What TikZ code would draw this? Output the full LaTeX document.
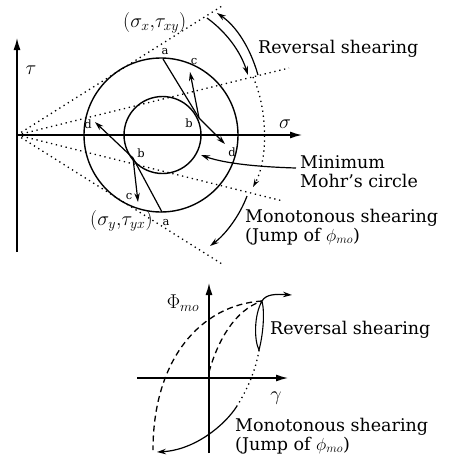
\RequirePackage{fix-cm}
\documentclass[tikz,border=0pt]{standalone}
\usepackage{fontspec}
\setmainfont{DejaVu Serif}
\usetikzlibrary{arrows.meta}
\begin{document}
\begin{tikzpicture}[x=1pt,y=-1pt,
  axis/.style={line width=1.3pt,-{Latex[length=12pt,width=7pt]}},
  circ/.style={line width=1.4pt},
  dotl/.style={line width=1.3pt,dash pattern=on 1.3pt off 3.7pt},
  dashl/.style={line width=1.3pt,dash pattern=on 6pt off 4pt},
  seg/.style={line width=1.2pt},
  arr/.style={line width=1.2pt,-{Stealth[length=9pt,width=5.5pt]}},
  txt/.style={font=\fontsize{17.5}{18.5}\selectfont,inner sep=0pt,anchor=base west,align=left},
  mth/.style={font=\fontsize{20}{22}\selectfont,inner sep=0pt,anchor=base west},
  sym/.style={font=\fontsize{20}{22}\selectfont,inner sep=0pt},
  pl/.style={font=\fontsize{11.5}{13}\selectfont,inner sep=0pt}]
\useasboundingbox (0,0) rectangle (450,456);
% ---------- upper diagram ----------
\coordinate (O) at (17,135);
\coordinate (T0) at (17,252);
\coordinate (T1) at (17,38);
\coordinate (S1) at (302,135);
\draw[axis] (T0) -- (T1);
\draw[axis] (O) -- (S1);
\node[sym] (tau) at (31,70) {$\tau$};
\node[sym] (sig) at (285,124) {$\sigma$};
% circles
\coordinate (C1) at (161,135);
\coordinate (C2) at (162.5,135);
\draw[circ] (C1) circle[radius=77];
\draw[circ] (C2) circle[radius=38.5];
% dotted rays
\coordinate (D1) at (222,6);
\coordinate (D2) at (289,68);
\coordinate (D3) at (283,201);
\coordinate (D4) at (222,264);
\draw[dotl] (O) -- (D1);
\draw[dotl] (O) -- (D2);
\draw[dotl] (O) -- (D3);
\draw[dotl] (O) -- (D4);
% stress paths
\coordinate (au) at (163,59);
\coordinate (bu) at (199,118);
\coordinate (cu) at (190,72);
\coordinate (du) at (225,144);
\coordinate (al) at (162,212);
\coordinate (bl) at (133,158);
\coordinate (cl) at (138,202);
\coordinate (dl) at (95,122);
\draw[seg] (au) -- (bu);
\draw[arr] (bu) -- (cu);
\draw[arr] (bu) -- (du);
\draw[seg] (al) -- (bl);
\draw[arr] (bl) -- (cl);
\draw[arr] (bl) -- (dl);
\node[pl] (la1) at (165,52) {a};
\node[pl] (lc1) at (194,62) {c};
\node[pl] (lb1) at (189,123) {b};
\node[pl] (ld1) at (232,152) {d};
\node[pl] (lb2) at (141,153) {b};
\node[pl] (lc2) at (129,197) {c};
\node[pl] (ld2) at (88,124) {d};
\node[pl] (la2) at (166,223) {a};
\node[mth] (sxy) at (123,27) {$(\sigma_x{,}\tau_{xy})$};
\node[mth] (syx) at (90,225) {$(\sigma_y{,}\tau_{yx})$};
% reversal shearing arrows
\coordinate (R1s) at (258,75);
\coordinate (R1e) at (217,13);
\coordinate (R2s) at (207,18);
\coordinate (R2e) at (248,75);
\draw[arr] (R1s) .. controls (250,47) and (236,26) .. (R1e);
\draw[arr] (R2s) .. controls (225,31) and (240,50) .. (R2e);
\node[txt] (rev1) at (258,53) {Reversal shearing};
% dotted arc and monotonous shearing
\coordinate (M0) at (253,77);
\coordinate (M1) at (253,187);
\coordinate (M2) at (247,196);
\coordinate (M3) at (210,246);
\draw[dotl,-{Stealth[length=8pt,width=5pt]}] (M0) .. controls (268,110) and (268,160) .. (M1);
\draw[arr] (M2) .. controls (240,215) and (226,234) .. (M3);
\node[txt] (mono1) at (245,241) {Monotonous shearing\\(Jump of $\phi_{mo}$)};
% minimum Mohr's circle
\coordinate (N0) at (296,168);
\coordinate (N1) at (201,155);
\draw[arr] (N0) .. controls (262,167) and (226,164) .. (N1);
\node[txt] (min) at (300,187) {Minimum\\Mohr's circle};
% ---------- lower diagram ----------
\coordinate (Q) at (209,378);
\coordinate (V0) at (209,453);
\coordinate (V1) at (209,283);
\coordinate (H0) at (137,378);
\coordinate (H1) at (288,378);
\draw[axis] (V0) -- (V1);
\draw[axis] (H0) -- (H1);
\node[sym] (phi) at (183,303) {$\Phi_{mo}$};
\node[sym] (gam) at (276,398) {$\gamma$};
\coordinate (P) at (262,301);
\coordinate (Q0) at (209,372);
\coordinate (BL) at (153,450);
\coordinate (L1) at (259,350);
\coordinate (L2) at (237,406);
\coordinate (L3) at (157,452);
\coordinate (L4) at (292,295);
\draw[dashl] (P) .. controls (200,305) and (153,360) .. (BL);
\draw[dashl] (Q0) .. controls (218,340) and (235,310) .. (P);
\draw[line width=1.1pt] (P) .. controls (254,315) and (254,340) .. (L1)
   .. controls (263,335) and (265,313) .. (P);
\draw[dotl] (L1) .. controls (256,370) and (247,390) .. (L2);
\draw[arr] (L2) .. controls (225,425) and (195,450) .. (L3);
\draw[arr] (P) .. controls (266,294) and (276,294) .. (L4);
\node[txt] (rev2) at (270,334) {Reversal shearing};
\node[txt] (mono2) at (235,450) {Monotonous shearing\\(Jump of $\phi_{mo}$)};
\end{tikzpicture}
\end{document}
